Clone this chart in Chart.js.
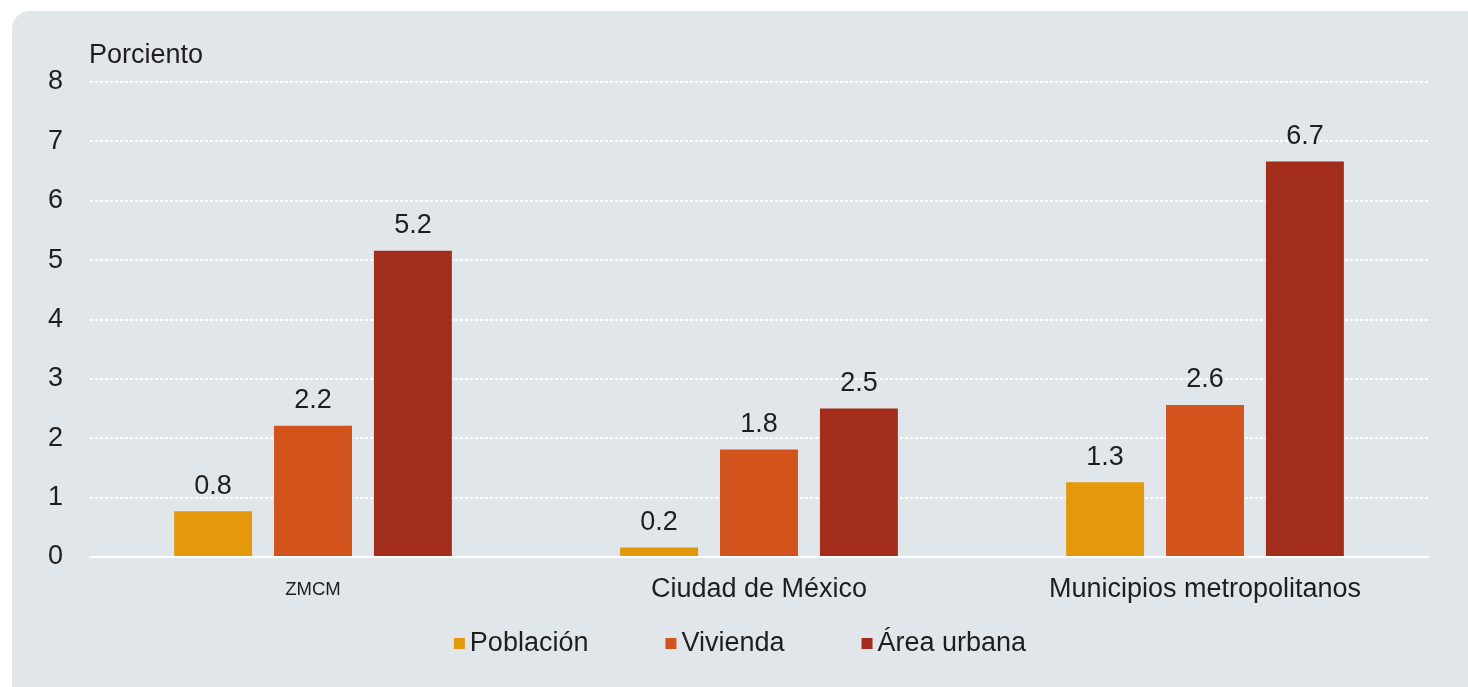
<!DOCTYPE html>
<html lang="es">
<head>
  <meta charset="UTF-8">
  <title>Crecimiento de población, vivienda y área urbana</title>
  <script src="https://cdn.jsdelivr.net/npm/chart.js"></script>
  <style>
    body { margin: 0; background: #fff; }
    .panel {
      position: absolute; left: 12px; top: 11px;
      width: 1456px; height: 676px;
      background: #e1e6ea; border-top-left-radius: 18px;
    }
  </style>
</head>
<body>
  <div class="panel"><canvas id="chart" width="1456" height="676"></canvas></div>

  <script>
    const categories = ['ZMCM', 'Ciudad de México', 'Municipios metropolitanos'];
    const poblacion = [0.77, 0.16, 1.26];
    const vivienda = [2.21, 1.81, 2.56];
    const areaUrbana = [5.16, 2.50, 6.66];
    const yMin = 0, yMax = 8, yStep = 1;
    const yUnit = 'Porciento';

    const FONT = '"Liberation Sans", Arial, sans-serif';
    const TEXT = '#1e1e1e';

    // value labels above bars + unit caption over the axis
    const labelsPlugin = {
      id: 'valueLabels',
      afterDatasetsDraw(chart) {
        const ctx = chart.ctx;
        ctx.save();
        ctx.font = '27px ' + FONT;
        ctx.fillStyle = TEXT;
        ctx.textAlign = 'center';
        ctx.textBaseline = 'middle';
        chart.data.datasets.forEach((ds, i) => {
          chart.getDatasetMeta(i).data.forEach((bar, j) => {
            ctx.fillText(ds.data[j].toFixed(1), bar.x, bar.y - 25);
          });
        });
        ctx.textAlign = 'left';
        ctx.fillText(yUnit, chart.chartArea.left - 1, 45);
        ctx.restore();
      }
    };

    // legend: small squares, tight text, wide gaps between items
    const legendPlugin = {
      id: 'wideLegend',
      afterDraw(chart) {
        const ctx = chart.ctx;
        const box = 11, gapText = 5, gapItem = 77, baseline = 640;
        ctx.save();
        ctx.font = '27px ' + FONT;
        ctx.textBaseline = 'alphabetic';
        ctx.textAlign = 'left';
        const items = chart.data.datasets.map(ds => ({
          text: ds.label, color: ds.backgroundColor,
          w: box + gapText + ctx.measureText(ds.label).width
        }));
        const total = items.reduce((s, it) => s + it.w, 0) + gapItem * (items.length - 1);
        let x = chart.width / 2 - total / 2;
        items.forEach(it => {
          ctx.fillStyle = it.color;
          ctx.fillRect(x, baseline - 13, box, box);
          ctx.fillStyle = TEXT;
          ctx.fillText(it.text, x + box + gapText, baseline);
          x += it.w + gapItem;
        });
        ctx.restore();
      }
    };

    new Chart(document.getElementById('chart'), {
      type: 'bar',
      data: {
        labels: categories,
        datasets: [
          { label: 'Población', data: poblacion, backgroundColor: '#e3990b' },
          { label: 'Vivienda', data: vivienda, backgroundColor: '#d3531c' },
          { label: 'Área urbana', data: areaUrbana, backgroundColor: '#a22d1b' }
        ]
      },
      options: {
        responsive: false,
        animation: false,
        categoryPercentage: 0.672,
        barPercentage: 0.78,
        layout: { padding: { top: 71, right: 40, left: 0, bottom: 70 } },
        scales: {
          x: {
            grid: { display: false, drawTicks: false },
            border: { display: true, color: '#ffffff', width: 2 },
            ticks: {
              color: TEXT,
              padding: 16,
              // first label is set smaller, sitting on the same baseline
              font: c => c.index === 0
                ? { family: FONT, size: 18.5, lineHeight: 1.85 }
                : { family: FONT, size: 27 }
            },
            afterFit: s => { s.height = 60; }
          },
          y: {
            min: yMin, max: yMax,
            ticks: { stepSize: yStep, padding: 27, color: TEXT, font: { family: FONT, size: 27 } },
            grid: {
              drawTicks: false,
              lineWidth: 2,
              color: c => (c.tick && c.tick.value === 0) ? 'rgba(0,0,0,0)' : '#ffffff'
            },
            border: { display: false, dash: [3, 2] },
            afterFit: s => { s.width = 78; }
          }
        },
        plugins: {
          legend: { display: false },
          tooltip: { enabled: false }
        }
      },
      plugins: [labelsPlugin, legendPlugin]
    });
  </script>
</body>
</html>
